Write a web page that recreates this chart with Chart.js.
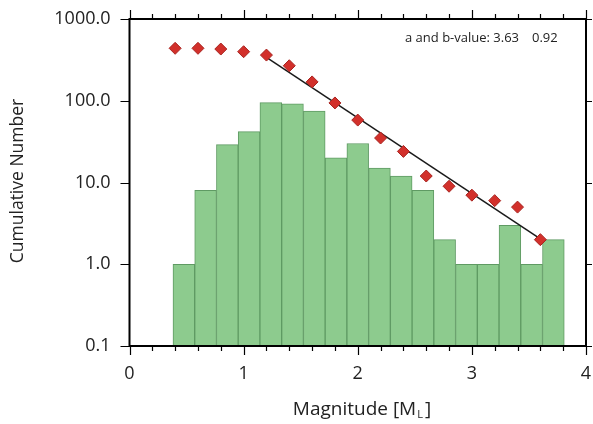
<!DOCTYPE html>
<html>
<head>
<meta charset="utf-8">
<script src="https://cdn.jsdelivr.net/npm/chart.js@4.4.1/dist/chart.umd.min.js"></script>
<style>
  html, body { margin: 0; padding: 0; background: #fff; }
  #wrap { width: 593px; height: 424px; }
</style>
</head>
<body>
<div id="wrap"><canvas id="chart"></canvas></div>
<script>
// histogram: bin centres (on the bar axis) and counts per bin
const binCenters = [0.5, 0.7, 0.9, 1.1, 1.3, 1.5, 1.7, 1.9, 2.1, 2.3, 2.5, 2.7, 2.9, 3.1, 3.3, 3.5, 3.7, 3.9];
const binCounts = [1, 8, 29, 42, 95, 92, 75, 20, 30, 15, 12, 8, 2, 1, 1, 3, 1, 2];

// cumulative number of events per magnitude
const magnitudes = [0.4, 0.6, 0.8, 1.0, 1.2, 1.4, 1.6, 1.8, 2.0, 2.2, 2.4, 2.6, 2.8, 3.0, 3.2, 3.4, 3.6];
const cumulative = [438, 438, 429, 398, 362, 268, 170, 94, 58, 35, 24, 12, 9, 7, 6, 5, 2];

// fitted line, its two ends
const fitMag = [1.2, 3.6];
const fitN = [340, 2.05];

const xTicks = [0, 1, 2, 3, 4];
const yTicks = [0.1, 1, 10, 100, 1000];
const abLabel = 'a and b-value: 3.63';
const bLabel = '0.92';

const FONT = "'Open Sans', 'DejaVu Sans', sans-serif";

// frame, tick marks, titles and the a/b note
const framePlugin = {
  id: 'frame',
  afterDatasetsDraw(chart) {
    const { ctx, chartArea: a, scales } = chart;
    const x = scales.x, y = scales.y;
    ctx.save();
    ctx.strokeStyle = '#000';
    ctx.lineWidth = 2;
    ctx.strokeRect(a.left, a.top, a.right - a.left, a.bottom - a.top);

    ctx.lineWidth = 1.2;
    ctx.beginPath();
    for (let i = 0; i <= 20; i++) {
      const px = Math.round(x.getPixelForValue(i * 0.2)) + 0.5;
      const len = i % 5 === 0 ? 9 : 5;
      ctx.moveTo(px, a.bottom);
      ctx.lineTo(px, a.bottom + len);
      ctx.moveTo(px, a.top);
      ctx.lineTo(px, a.top - len);
    }
    yTicks.forEach(v => {
      const py = Math.round(y.getPixelForValue(v)) + 0.5;
      ctx.moveTo(a.left - 9, py);
      ctx.lineTo(a.left, py);
      ctx.moveTo(a.right, py);
      ctx.lineTo(a.right + 6, py);
    });
    ctx.stroke();

    ctx.fillStyle = '#222';
    ctx.textBaseline = 'middle';
    ctx.textAlign = 'left';
    ctx.font = '13px ' + FONT;
    ctx.fillText(abLabel, 405, 38);
    ctx.fillText(bLabel, 532, 38);

    // x title with subscript L
    const t1 = 'Magnitude [M', t2 = 'L', t3 = ']';
    ctx.font = '19px ' + FONT;
    const w1 = ctx.measureText(t1).width;
    const w3 = ctx.measureText(t3).width;
    ctx.font = '11px ' + FONT;
    const w2 = ctx.measureText(t2).width;
    const sx = 362 - (w1 + w2 + w3 + 3) / 2;
    const ty = 410;
    ctx.font = '19px ' + FONT;
    ctx.fillText(t1, sx, ty);
    ctx.font = '11px ' + FONT;
    ctx.fillText(t2, sx + w1 + 1, ty + 5);
    ctx.font = '19px ' + FONT;
    ctx.fillText(t3, sx + w1 + w2 + 3, ty);

    // y title
    ctx.save();
    ctx.translate(18, 181);
    ctx.rotate(-Math.PI / 2);
    ctx.textAlign = 'center';
    ctx.font = '17.5px ' + FONT;
    ctx.fillText('Cumulative Number', 0, 0);
    ctx.restore();
    ctx.restore();
  }
};

new Chart(document.getElementById('chart'), {
  data: {
    datasets: [
      {
        type: 'bar',
        xAxisID: 'xb',
        data: binCenters.map((c, i) => ({ x: c, y: binCounts[i] })),
        backgroundColor: '#8dcb8e',
        borderColor: '#5f9a63',
        borderWidth: 1,
        grouped: false,
        barPercentage: 1,
        categoryPercentage: 1,
        order: 3
      },
      {
        type: 'line',
        data: fitMag.map((m, i) => ({ x: m, y: fitN[i] })),
        borderColor: '#1a1a1a',
        borderWidth: 1.5,
        pointRadius: 0,
        order: 2
      },
      {
        type: 'scatter',
        data: magnitudes.map((m, i) => ({ x: m, y: cumulative[i] })),
        pointStyle: 'rectRot',
        pointRadius: 6,
        backgroundColor: '#d2302b',
        borderColor: '#a82420',
        borderWidth: 1,
        order: 1
      }
    ]
  },
  options: {
    responsive: true,
    maintainAspectRatio: false,
    animation: false,
    layout: { padding: { left: 0, right: 6, top: 19, bottom: 0 } },
    plugins: { legend: { display: false }, tooltip: { enabled: false } },
    scales: {
      x: {
        type: 'linear',
        min: 0,
        max: 4,
        offset: false,
        afterBuildTicks: s => { s.ticks = xTicks.map(v => ({ value: v })); },
        afterFit: s => {
          s.height = 78;
          s.paddingLeft = 0; s.paddingRight = 0;
        },
        grid: { display: false },
        border: { display: false },
        ticks: { color: '#222', font: { size: 18, family: FONT }, padding: 9 }
      },
      xb: {
        type: 'linear',
        display: false,
        offset: false,
        min: 0,
        max: 4.2,
        afterBuildTicks: s => { s.ticks = [{ value: 0 }]; }
      },
      y: {
        type: 'logarithmic',
        min: 0.1,
        max: 1000,
        afterBuildTicks: s => { s.ticks = yTicks.map(v => ({ value: v })); },
        afterFit: s => {
          s.width = 129.5;
          s.paddingTop = 0; s.paddingBottom = 0;
        },
        grid: { display: false },
        border: { display: false },
        ticks: {
          color: '#222',
          font: { size: 18, family: FONT },
          padding: 11,
          callback: v => Number(v).toFixed(1)
        }
      }
    }
  },
  plugins: [framePlugin]
});
</script>
</body>
</html>
